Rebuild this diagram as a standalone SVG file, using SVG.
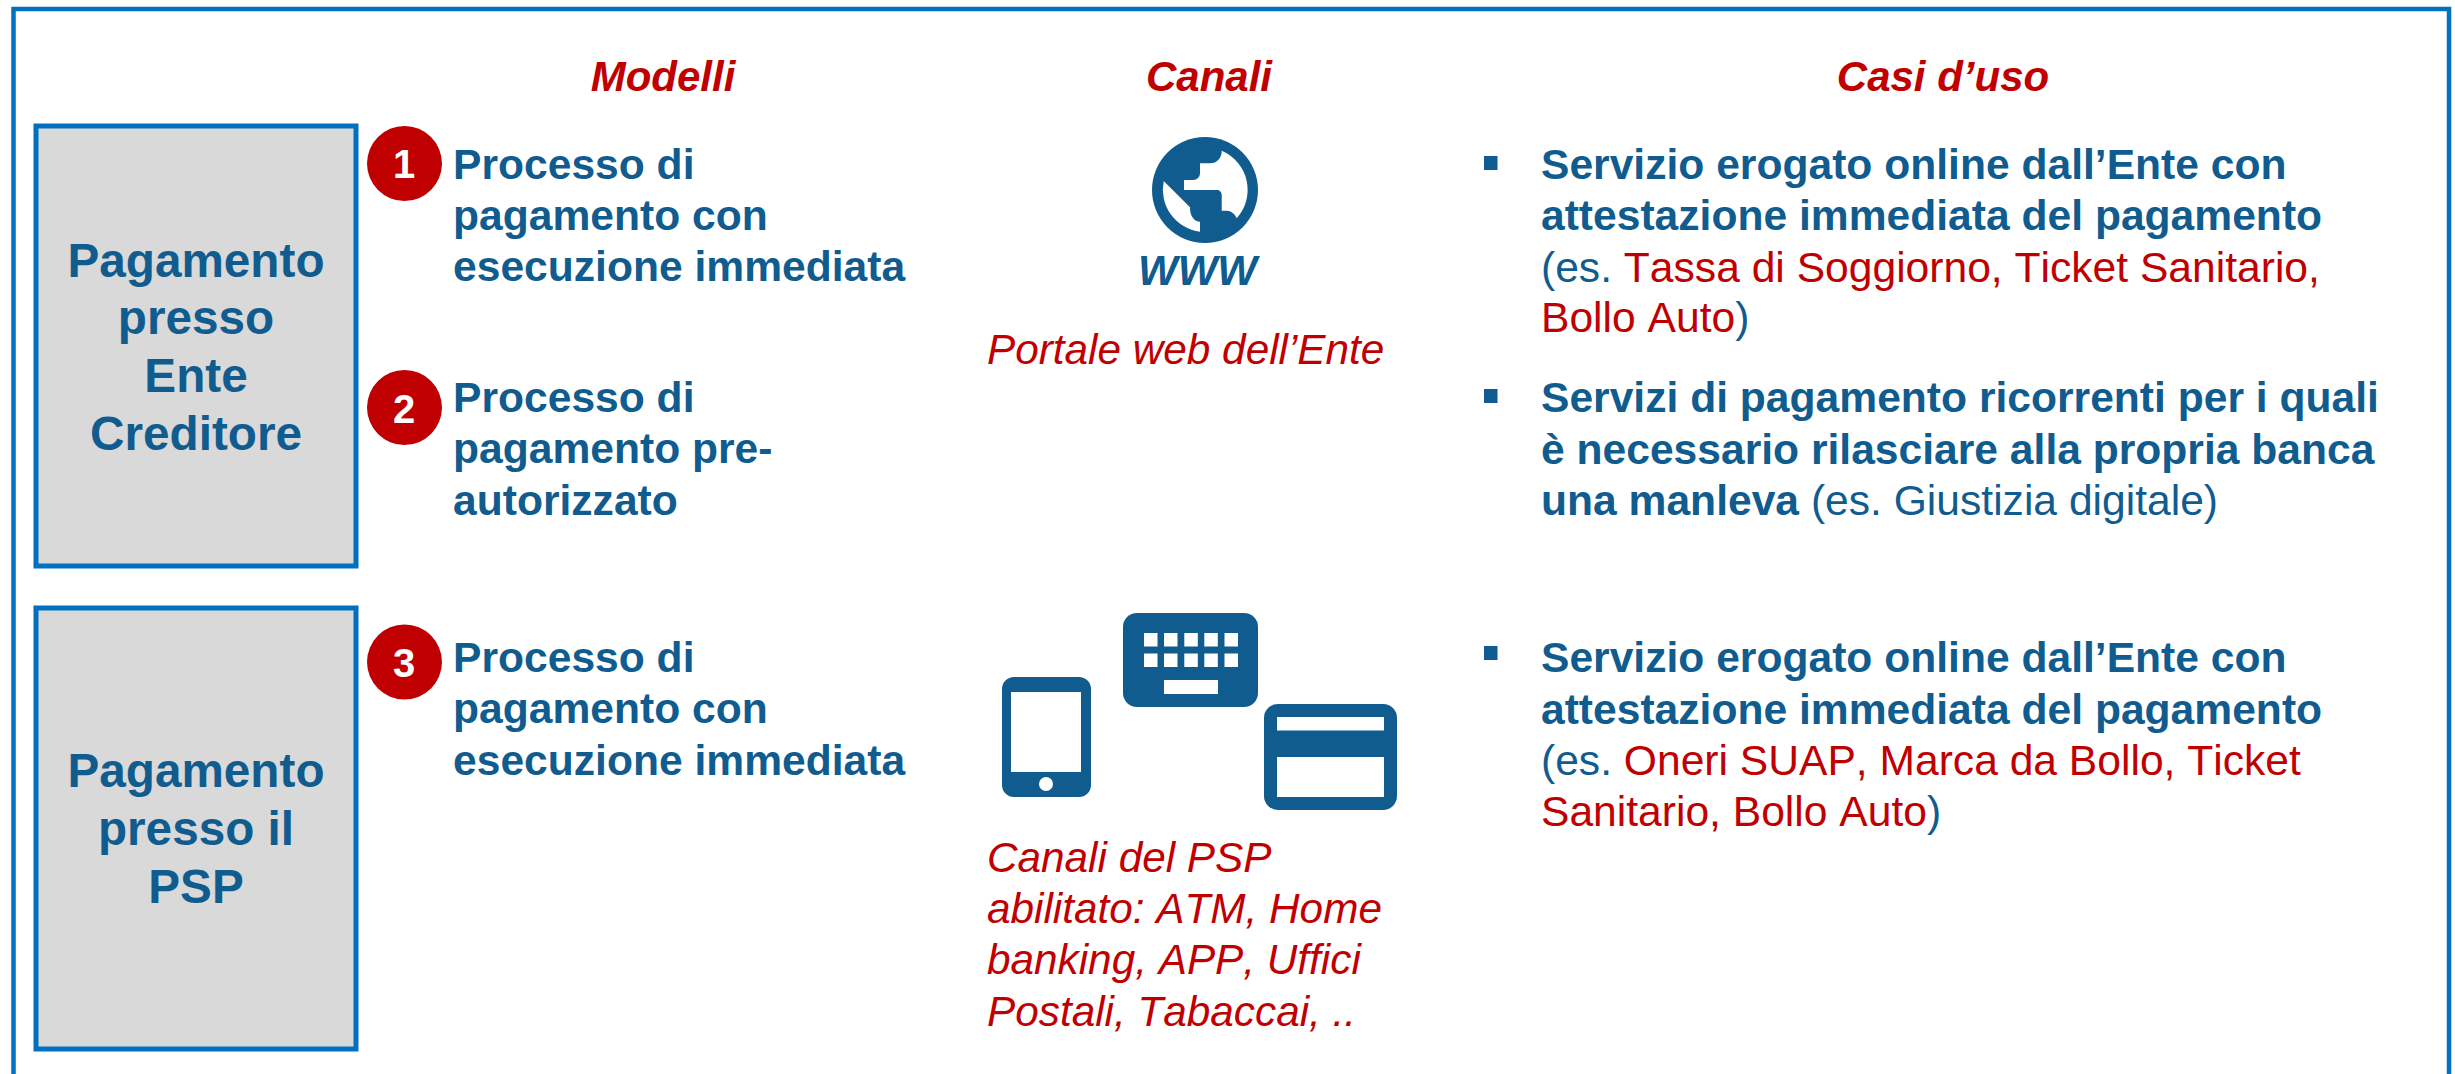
<svg xmlns="http://www.w3.org/2000/svg" width="2455" height="1074" viewBox="0 0 2455 1074">
<style>
text{font-family:"Liberation Sans",Arial,sans-serif;font-kerning:none}
.blue{fill:#115C8F}
.b{font-weight:700;font-size:42.6px}
.h{font-weight:700;font-style:italic;font-size:42px;fill:#C00000;text-anchor:middle}
.box{fill:#D9D9D9;stroke:#0070C0;stroke-width:5}
.t{font-size:47.7px;font-weight:700;fill:#115C8F;text-anchor:middle}
.m{font-size:42.6px;font-weight:700;fill:#115C8F}
.n{font-size:40px;font-weight:700;fill:#fff;text-anchor:middle}
.c{font-size:42.6px;fill:#115C8F}
.r{fill:#C00000}
.ci{font-size:42.3px;font-style:italic;fill:#C00000}
</style>
<rect x="0" y="0" width="2455" height="1074" fill="#fff"/>
<path id="frame" d="M13.500 1074V9H2449V1074" fill="none" stroke="#0070C0" stroke-width="4.500"/>
<g id="headers">
<text class="h" x="663" y="91">Modelli</text>
<text class="h" x="1209" y="91">Canali</text>
<text class="h" x="1943" y="91">Casi d’uso</text>
</g>
<g id="box-ente"><rect class="box" x="36" y="126" width="320" height="440"/>
<text class="t" x="196" y="277">Pagamento</text><text class="t" x="196" y="334">presso</text><text class="t" x="196" y="392">Ente</text><text class="t" x="196" y="450">Creditore</text></g>
<g id="box-psp"><rect class="box" x="36" y="608" width="320" height="441"/>
<text class="t" x="196" y="787">Pagamento</text><text class="t" x="196" y="845">presso il</text><text class="t" x="196" y="903">PSP</text></g>
<g id="model-1"><circle cx="404.500" cy="163.500" r="37.500" fill="#C00000"/><text class="n" x="404" y="178">1</text>
<text class="m" x="453" y="179">Processo di</text><text class="m" x="453" y="230">pagamento con</text><text class="m" x="453" y="281">esecuzione immediata</text></g>
<g id="model-2"><circle cx="404.500" cy="407.500" r="37.500" fill="#C00000"/><text class="n" x="404" y="423">2</text>
<text class="m" x="453" y="412">Processo di</text><text class="m" x="453" y="463">pagamento pre-</text><text class="m" x="453" y="515">autorizzato</text></g>
<g id="model-3"><circle cx="404.500" cy="662" r="37.500" fill="#C00000"/><text class="n" x="404" y="677">3</text>
<text class="m" x="453" y="672">Processo di</text><text class="m" x="453" y="723">pagamento con</text><text class="m" x="453" y="775">esecuzione immediata</text></g>
<g id="channel-web">
<circle cx="1205" cy="190" r="53" fill="#115C8F"/>
<path d="M1221.700 150.700C1221.700 158 1217 163.300 1210 163.300H1200V173C1200 177 1197 180 1193.300 180H1184V190H1216.700C1219.500 190 1221.700 192 1221.700 195V210.700H1226.700C1231 210.700 1235 214 1236.700 218.300A42.500 42.500 0 0 0 1221.700 150.700Z" fill="#fff"/>
<path d="M1163.700 181L1190 207.300C1190 212 1191 216 1193 218C1195 220.500 1197 221.700 1200 221.700V231.700A42.500 42.500 0 0 1 1163.700 181Z" fill="#fff"/>
<text x="1138" y="285" font-size="42" font-weight="700" font-style="italic" class="blue">WWW</text>
<text class="ci" x="987" y="364">Portale web dell’Ente</text>
</g>
<g id="channel-psp" class="blue">
<rect x="1002" y="677" width="89" height="120" rx="12"/><rect x="1011" y="692" width="70" height="80" fill="#fff"/><circle cx="1046" cy="784" r="7" fill="#fff"/>
<rect x="1123" y="613" width="135" height="94" rx="14"/>
<g fill="#fff"><rect x="1144" y="633" width="13.500" height="13.500"/><rect x="1164" y="633" width="13.500" height="13.500"/><rect x="1184.300" y="633" width="13.500" height="13.500"/><rect x="1204.300" y="633" width="13.500" height="13.500"/><rect x="1224.500" y="633" width="13.500" height="13.500"/><rect x="1144" y="653.500" width="13.500" height="13.500"/><rect x="1164" y="653.500" width="13.500" height="13.500"/><rect x="1184.300" y="653.500" width="13.500" height="13.500"/><rect x="1204.300" y="653.500" width="13.500" height="13.500"/><rect x="1224.500" y="653.500" width="13.500" height="13.500"/><rect x="1164" y="680" width="54" height="14"/></g>
<rect x="1264" y="704" width="133" height="106" rx="14"/><rect x="1277" y="717" width="107" height="13.500" fill="#fff"/><rect x="1277" y="757" width="107" height="40" fill="#fff"/>
<text class="ci" x="987" y="871.500">Canali del PSP</text><text class="ci" x="987" y="922.700">abilitato: ATM, Home</text><text class="ci" x="987" y="974">banking, APP, Uffici</text><text class="ci" x="987" y="1026">Postali, Tabaccai, ..</text>
</g>
<g id="use-cases">
<g fill="#115C8F"><rect x="1484" y="156" width="13.500" height="14"/><rect x="1484" y="389" width="13.500" height="14"/><rect x="1484" y="646" width="13.500" height="14"/></g>
<text class="b" fill="#115C8F" x="1541" y="179.300">Servizio erogato online dall’Ente con</text>
<text class="b" fill="#115C8F" x="1541" y="230">attestazione immediata del pagamento</text>
<text class="c" x="1541" y="281.700">(es. <tspan class="r">Tassa di Soggiorno, Ticket Sanitario,</tspan></text>
<text class="c" x="1541" y="331.700"><tspan class="r">Bollo Auto</tspan>)</text>
<text class="b" fill="#115C8F" x="1541" y="412">Servizi di pagamento ricorrenti per i quali</text>
<text class="b" fill="#115C8F" x="1541" y="464">è necessario rilasciare alla propria banca</text>
<text class="c" x="1541" y="515"><tspan class="b">una manleva</tspan> (es. Giustizia digitale)</text>
<text class="b" fill="#115C8F" x="1541" y="672">Servizio erogato online dall’Ente con</text>
<text class="b" fill="#115C8F" x="1541" y="723.500">attestazione immediata del pagamento</text>
<text class="c" x="1541" y="775">(es. <tspan class="r">Oneri SUAP, Marca da Bollo, Ticket</tspan></text>
<text class="c" x="1541" y="826"><tspan class="r">Sanitario, Bollo Auto</tspan>)</text>
</g>
</svg>
